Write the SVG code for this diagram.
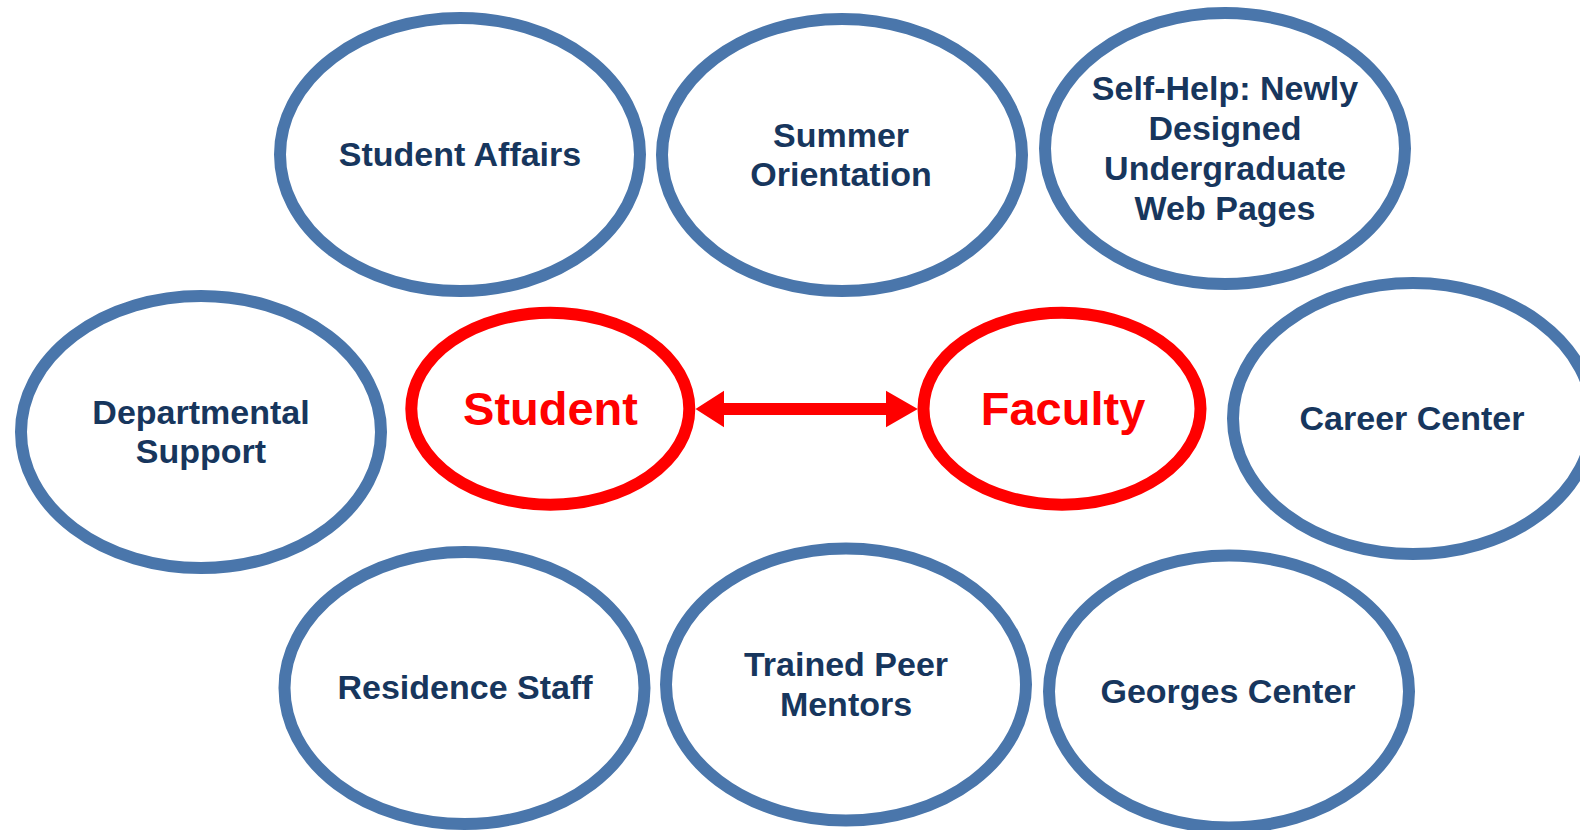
<svg xmlns="http://www.w3.org/2000/svg" width="1580" height="830" viewBox="0 0 1580 830">
<style>
.b{fill:#fff;stroke:#4a76ab;stroke-width:12}
.r{fill:#fff;stroke:#ff0000;stroke-width:12}
.t{font-family:"Liberation Sans",Arial,sans-serif;font-weight:bold;font-size:34px;fill:#17365d;text-anchor:middle}
.rt{font-family:"Liberation Sans",Arial,sans-serif;font-weight:bold;font-size:47px;fill:#ff0000;text-anchor:middle}
</style>
<rect width="1580" height="830" fill="#fff"/>
<g id="student-affairs"><ellipse class="b" cx="460" cy="154.5" rx="180" ry="136.5"/><text class="t" x="460" y="166">Student Affairs</text></g>
<g id="summer-orientation"><ellipse class="b" cx="842" cy="155" rx="180" ry="136"/><text class="t" x="841" y="147">Summer</text><text class="t" x="841" y="186">Orientation</text></g>
<g id="self-help"><ellipse class="b" cx="1225" cy="148.5" rx="180" ry="135.5"/><text class="t" x="1225" y="100">Self-Help: Newly</text><text class="t" x="1225" y="140">Designed</text><text class="t" x="1225" y="180">Undergraduate</text><text class="t" x="1225" y="220">Web Pages</text></g>
<g id="departmental-support"><ellipse class="b" cx="201" cy="432" rx="180" ry="136"/><text class="t" x="201" y="424">Departmental</text><text class="t" x="201" y="463">Support</text></g>
<g id="career-center"><ellipse class="b" cx="1413" cy="418.5" rx="180" ry="135.5"/><text class="t" x="1412" y="430">Career Center</text></g>
<g id="residence-staff"><ellipse class="b" cx="464.5" cy="688" rx="180" ry="136"/><text class="t" x="465" y="699">Residence Staff</text></g>
<g id="trained-peer-mentors"><ellipse class="b" cx="846" cy="684.5" rx="180" ry="136"/><text class="t" x="846" y="676">Trained Peer</text><text class="t" x="846" y="716">Mentors</text></g>
<g id="georges-center"><ellipse class="b" cx="1229" cy="691.5" rx="180" ry="136"/><text class="t" x="1228" y="703">Georges Center</text></g>
<g id="student"><ellipse class="r" cx="550.3" cy="408.7" rx="139" ry="96"/><text class="rt" x="550.5" y="425">Student</text></g>
<g id="faculty"><ellipse class="r" cx="1062" cy="408.7" rx="138.5" ry="96"/><text class="rt" x="1063" y="425">Faculty</text></g>
<g id="connectors">
<path d="M695.5,409 L724,390.7 L724,403 L886,403 L886,390.7 L917.8,409 L886,427.3 L886,415 L724,415 L724,427.3 Z" fill="#ff0000"/>
</g>
</svg>
